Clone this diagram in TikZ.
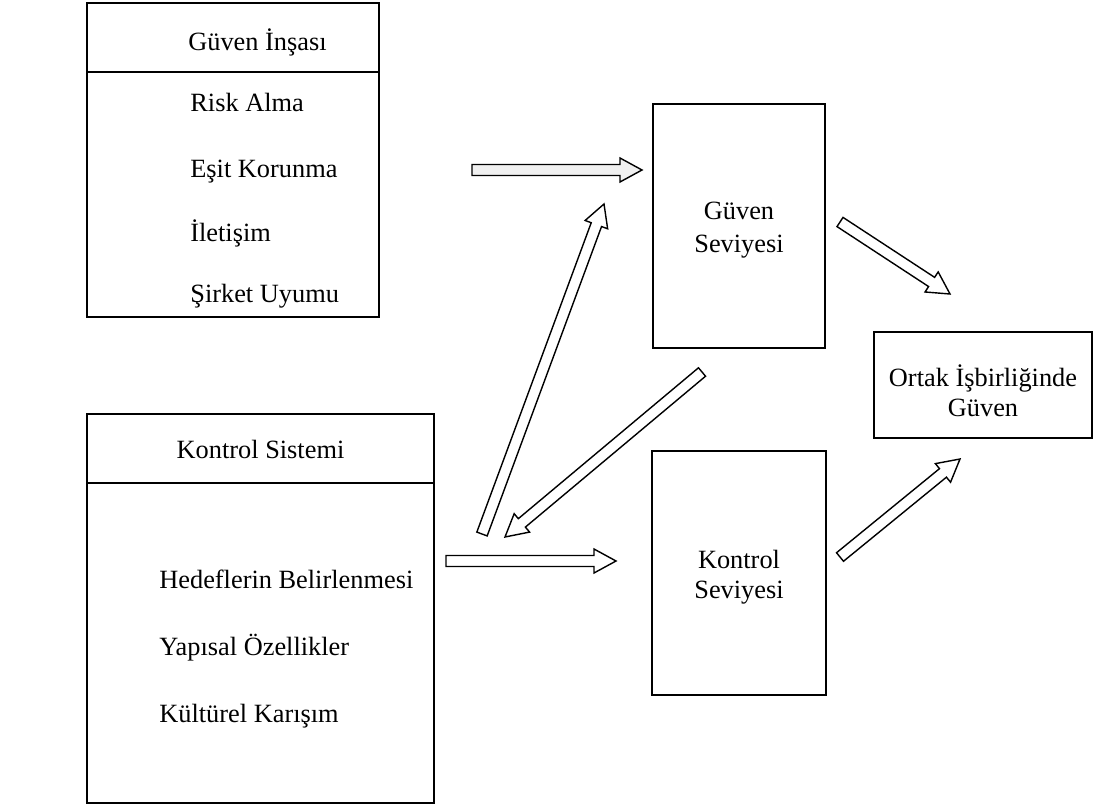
\documentclass[tikz,border=0pt]{standalone}
\usepackage{fontspec}
\setmainfont{Liberation Serif}
\usetikzlibrary{calc}

\tikzset{
  box/.style={draw, line width=0.8pt, inner sep=0pt},
  txt/.style={font=\fontsize{15}{17}\selectfont, inner sep=0pt},
  arrowline/.style={line width=0.8pt, line join=miter}
}

% hollow block arrow from #2 to #3, filled with #1
\newcommand{\hollowarrow}[3][white]{%
  \coordinate (hb) at ($(#3)!0.44cm!(#2)$);
  \draw[arrowline, fill=#1] ($(#2)!0.11cm!90:(#3)$) -- ($(hb)!0.11cm!90:(#3)$)
    -- ($(hb)!0.24cm!90:(#3)$) -- (#3) -- ($(hb)!0.24cm!-90:(#3)$)
    -- ($(hb)!0.11cm!-90:(#3)$) -- ($(#2)!0.11cm!-90:(#3)$) -- cycle;}

\begin{document}
\begin{tikzpicture}[x=0.02cm, y=-0.02cm]
  \useasboundingbox (0,0) rectangle (1094,807);

  % Güven İnşası box
  \node[box, minimum width=5.84cm, minimum height=1.38cm] (gihead) at (233,37.5) {};
  \node[box, minimum width=5.84cm, minimum height=4.9cm] (gibody) at (233,194.5) {};
  \node[txt, anchor=base west] (gititle) at (188,51) {Güven İnşası};
  \node[txt, anchor=base west] (risk) at (190,112) {Risk Alma};
  \node[txt, anchor=base west] (esit) at (190,178) {Eşit Korunma};
  \node[txt, anchor=base west] (iletisim) at (190,242) {İletişim};
  \node[txt, anchor=base west] (sirket) at (190,302) {Şirket Uyumu};

  % Kontrol Sistemi box
  \node[box, minimum width=6.94cm, minimum height=1.38cm] (kshead) at (260.5,448.5) {};
  \node[box, minimum width=6.94cm, minimum height=6.4cm] (ksbody) at (260.5,643) {};
  \node[txt, anchor=base] (kstitle) at (260.5,458) {Kontrol Sistemi};
  \node[txt, anchor=base west] (hedef) at (159,588) {Hedeflerin Belirlenmesi};
  \node[txt, anchor=base west] (yapisal) at (159,655) {Yapısal Özellikler};
  \node[txt, anchor=base west] (kultur) at (159,722) {Kültürel Karışım};

  % levels
  \node[box, minimum width=3.44cm, minimum height=4.88cm] (gs) at (739,226) {};
  \node[txt, font=\fontsize{15}{19}\selectfont, align=center] (gstext) at (739,230) {Güven\\Seviyesi};
  \node[box, minimum width=3.48cm, minimum height=4.88cm] (ks) at (739,573) {};
  \node[txt, align=center] (kstext) at (739,577) {Kontrol\\Seviyesi};

  % result
  \node[box, minimum width=4.36cm, minimum height=2.12cm] (ortak) at (983,385) {};
  \node[txt, align=center] (ortaktext) at (983,391) {Ortak İşbirliğinde\\Güven};

  % arrow ends
  \coordinate (a1s) at (472,170);  \coordinate (a1e) at (642,170);
  \coordinate (a2s) at (482,534);  \coordinate (a2e) at (604,204);
  \coordinate (a3s) at (702,372);  \coordinate (a3e) at (505,537);
  \coordinate (a4s) at (446,561);  \coordinate (a4e) at (616,561);
  \coordinate (a5s) at (840,222);  \coordinate (a5e) at (950,294);
  \coordinate (a6s) at (840,557);  \coordinate (a6e) at (960,459);

  \hollowarrow[black!6]{a1s}{a1e}
  \hollowarrow{a2s}{a2e}
  \hollowarrow{a3s}{a3e}
  \hollowarrow{a4s}{a4e}
  \hollowarrow{a5s}{a5e}
  \hollowarrow{a6s}{a6e}
\end{tikzpicture}
\end{document}
